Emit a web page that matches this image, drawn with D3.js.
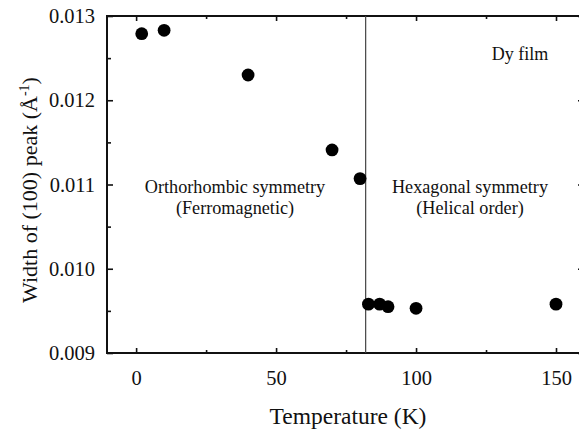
<!DOCTYPE html>
<html>
<head>
<meta charset="utf-8">
<script src="https://cdn.jsdelivr.net/npm/d3@7"></script>
<style>
  html, body { margin: 0; padding: 0; background: #fff; }
  svg { display: block; }
</style>
</head>
<body>
<svg id="chart" width="579" height="429"></svg>
<script>
// Peak width of the (100) reflection versus temperature
const temperature = [2, 10, 40, 70, 80, 83, 87, 90, 100, 150];
const peakWidth   = [0.01279, 0.01283, 0.01230, 0.01141, 0.01107, 0.00958, 0.00958, 0.00955, 0.00953, 0.00958];

const xMajorTicks = [0, 50, 100, 150];
const xMinorTicks = [25, 75, 125];
const yMajorTicks = [0.009, 0.010, 0.011, 0.012, 0.013];
const yMinorTicks = [0.0095, 0.0105, 0.0115, 0.0125];

const transitionT = 82;

const SERIF = "'Liberation Serif', 'Times New Roman', Tinos, 'DejaVu Serif', serif";

const svg = d3.select("#chart");

const x = d3.scaleLinear().domain([-10.4, 160]).range([107, 584]);
const y = d3.scaleLinear().domain([0.009, 0.013]).range([353, 16]);

const [x0, x1] = x.range();
const [yb, yt] = y.range();

// tick marks pointing into the frame, on all four sides
function addAxis(axisFn, scale, ticks, size, transform, fmt, pad) {
  const g = svg.append("g").attr("transform", transform)
    .attr("font-family", SERIF)
    .call(axisFn(scale).tickValues(ticks).tickSize(-size).tickPadding(pad || 0)
      .tickFormat(fmt || (() => "")));
  g.attr("font-family", SERIF);
  g.select(".domain").remove();
  g.selectAll(".tick line").attr("stroke", "#111").attr("stroke-width", 1.6);
  g.selectAll(".tick text").attr("fill", "#111").style("font-family", SERIF);
  return g;
}

const gx = addAxis(d3.axisBottom, x, xMajorTicks, 5, `translate(0,${yb})`, d3.format("d"), 17);
gx.selectAll("text").attr("font-size", 20.5).attr("dy", "0.71em");
addAxis(d3.axisBottom, x, xMinorTicks, 3, `translate(0,${yb})`);
addAxis(d3.axisTop, x, xMajorTicks, 5, `translate(0,${yt})`);
addAxis(d3.axisTop, x, xMinorTicks, 3, `translate(0,${yt})`);

const gy = addAxis(d3.axisLeft, y, yMajorTicks, 6, `translate(${x0},0)`, d3.format(".3f"), 12);
gy.selectAll("text").attr("font-size", 20.5);
addAxis(d3.axisLeft, y, yMinorTicks, 4, `translate(${x0},0)`);
addAxis(d3.axisRight, y, yMajorTicks, 6, `translate(${x1},0)`);
addAxis(d3.axisRight, y, yMinorTicks, 4, `translate(${x1},0)`);

// frame
svg.append("rect")
  .attr("x", x0).attr("y", yt)
  .attr("width", x1 - x0).attr("height", yb - yt)
  .attr("fill", "none").attr("stroke", "#111").attr("stroke-width", 2);

// phase boundary
svg.append("line")
  .attr("x1", x(transitionT)).attr("x2", x(transitionT))
  .attr("y1", yt).attr("y2", yb)
  .attr("stroke", "#444").attr("stroke-width", 1.2);

// data points
svg.append("g").selectAll("circle")
  .data(temperature.map((t, i) => [t, peakWidth[i]]))
  .join("circle")
  .attr("cx", d => x(d[0]))
  .attr("cy", d => y(d[1]))
  .attr("r", 6.4)
  .attr("fill", "#000");

// annotations
const note = (tx, ty, str, size) => svg.append("text")
  .attr("x", tx).attr("y", ty).attr("text-anchor", "middle")
  .attr("fill", "#111").style("font-family", SERIF)
  .attr("font-size", size).text(str);

note(235, 193, "Orthorhombic symmetry", 18.2);
note(235, 214, "(Ferromagnetic)", 18.2);
note(470, 193, "Hexagonal symmetry", 18.2);
note(470, 214, "(Helical order)", 18.2);
note(520, 60, "Dy film", 18);

// axis titles
svg.append("text")
  .attr("x", (x0 + 579) / 2 + 5).attr("y", 424)
  .attr("text-anchor", "middle").attr("font-size", 23.5)
  .attr("fill", "#111").style("font-family", SERIF)
  .text("Temperature (K)");

const yTitle = svg.append("text")
  .attr("transform", `translate(37,190) rotate(-90)`)
  .attr("text-anchor", "middle").attr("font-size", 22)
  .attr("fill", "#111").style("font-family", SERIF);
yTitle.append("tspan").text("Width of (100) peak (Å");
yTitle.append("tspan").attr("font-size", 14).attr("dy", -8).text("-1");
yTitle.append("tspan").attr("dy", 8).text(")");
</script>
</body>
</html>
